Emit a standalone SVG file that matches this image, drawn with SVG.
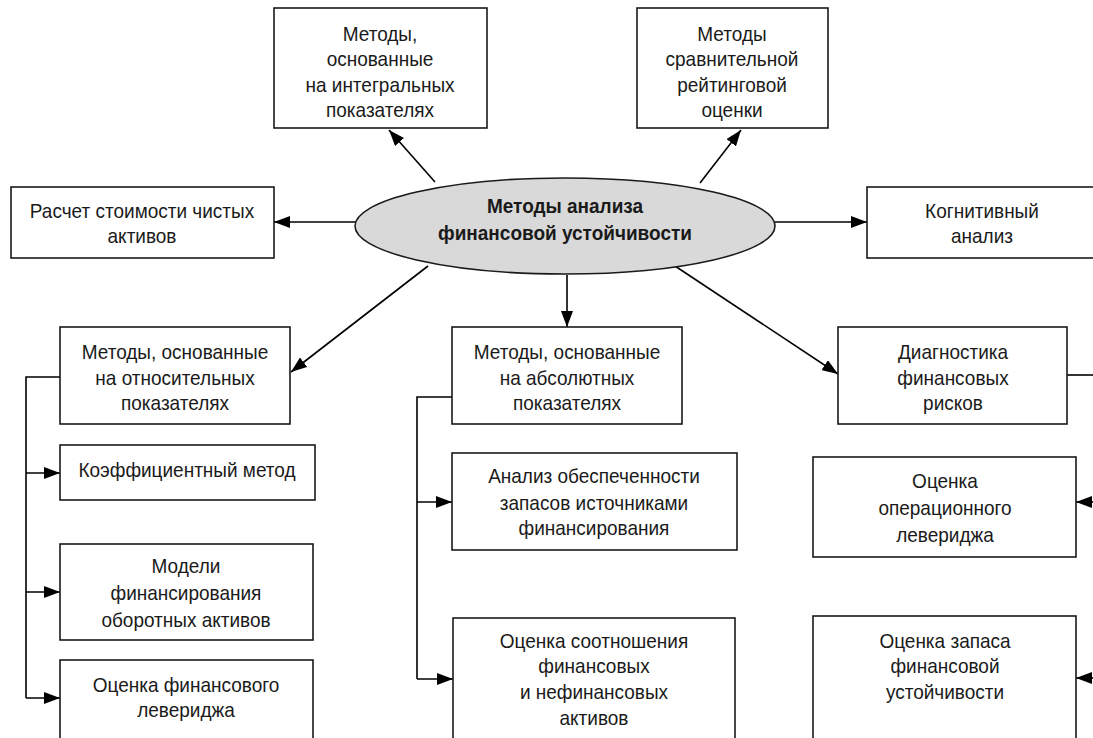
<svg xmlns="http://www.w3.org/2000/svg" width="1093" height="738" viewBox="0 0 1093 738">
<defs>
<marker id="ah" markerUnits="userSpaceOnUse" markerWidth="16" markerHeight="12" viewBox="0 0 16 12" refX="16" refY="6" orient="auto">
<path d="M0,0 L16,6 L0,12 Z" fill="#000"/>
</marker>
</defs>
<style>
.box{fill:#fff;stroke:#1a1a1a;stroke-width:1.6}
.t{font-family:"Liberation Sans",Arial,sans-serif;font-size:20.5px;fill:#1a1a1a;text-anchor:middle;transform-box:fill-box;transform-origin:center;transform:scaleX(0.927)}
.b{font-weight:bold}
.c{fill:none;stroke:#000;stroke-width:1.6}
.a{fill:none;stroke:#000;stroke-width:1.6;marker-end:url(#ah)}
</style>
<rect width="1093" height="738" fill="#fff"/>
<g id="connectors">
<path class="a" d="M435,182 L389,130"/>
<path class="a" d="M700,183 L741,130"/>
<path class="a" d="M356,222 L274,222"/>
<path class="a" d="M775,222 L867,222"/>
<path class="a" d="M428,266 L291,372"/>
<path class="a" d="M567,275 L567,327"/>
<path class="a" d="M675,266 L838,374"/>
<path class="c" d="M60,377 L26,377 L26,698"/>
<path class="a" d="M26,473 L60,473"/>
<path class="a" d="M26,592 L60,592"/>
<path class="a" d="M26,698 L60,698"/>
<path class="c" d="M452,397 L417,397 L417,679"/>
<path class="a" d="M417,502 L452,502"/>
<path class="a" d="M417,679 L453,679"/>
<path class="c" d="M1067,375 L1095,375"/>
<path class="a" d="M1095,502 L1076,502"/>
<path class="a" d="M1095,678 L1076,678"/>
</g>
<g id="center">
<ellipse cx="565" cy="226" rx="210" ry="48" fill="#d9d9d9" stroke="#1a1a1a" stroke-width="1.6"/>
<text class="t b" x="565" y="213">Методы анализа</text>
<text class="t b" x="565" y="240">финансовой устойчивости</text>
</g>
<g id="integral">
<rect class="box" x="274" y="8" width="213" height="120"/>
<text class="t" x="380" y="41">Методы,</text>
<text class="t" x="380" y="66.5">основанные</text>
<text class="t" x="380" y="92">на интегральных</text>
<text class="t" x="380" y="117.5">показателях</text>
</g>
<g id="rating">
<rect class="box" x="637" y="8" width="191" height="120"/>
<text class="t" x="732" y="41">Методы</text>
<text class="t" x="732" y="66.5">сравнительной</text>
<text class="t" x="732" y="92">рейтинговой</text>
<text class="t" x="732" y="117.5">оценки</text>
</g>
<g id="netassets">
<rect class="box" x="11" y="187" width="263" height="71"/>
<text class="t" x="142" y="218">Расчет стоимости чистых</text>
<text class="t" x="142" y="243">активов</text>
</g>
<g id="cognitive">
<rect class="box" x="867" y="187" width="240" height="71"/>
<text class="t" x="982" y="218">Когнитивный</text>
<text class="t" x="982" y="243">анализ</text>
</g>
<g id="relative">
<rect class="box" x="60" y="327" width="230" height="97"/>
<text class="t" x="175" y="359">Методы, основанные</text>
<text class="t" x="175" y="385">на относительных</text>
<text class="t" x="175" y="410">показателях</text>
</g>
<g id="coef">
<rect class="box" x="60" y="445" width="255" height="55"/>
<text class="t" x="187" y="477">Коэффициентный метод</text>
</g>
<g id="models">
<rect class="box" x="60" y="544" width="253" height="96"/>
<text class="t" x="186" y="573">Модели</text>
<text class="t" x="186" y="600">финансирования</text>
<text class="t" x="186" y="627">оборотных активов</text>
</g>
<g id="finlev">
<rect class="box" x="60" y="660" width="253" height="90"/>
<text class="t" x="186" y="692">Оценка финансового</text>
<text class="t" x="186" y="717">левериджа</text>
</g>
<g id="absolute">
<rect class="box" x="452" y="327" width="230" height="97"/>
<text class="t" x="567" y="359">Методы, основанные</text>
<text class="t" x="567" y="385">на абсолютных</text>
<text class="t" x="567" y="410">показателях</text>
</g>
<g id="stock">
<rect class="box" x="452" y="453" width="285" height="97"/>
<text class="t" x="594" y="483">Анализ обеспеченности</text>
<text class="t" x="594" y="510">запасов источниками</text>
<text class="t" x="594" y="535">финансирования</text>
</g>
<g id="ratio">
<rect class="box" x="453" y="618" width="282" height="130"/>
<text class="t" x="594" y="648">Оценка соотношения</text>
<text class="t" x="594" y="673">финансовых</text>
<text class="t" x="594" y="699">и нефинансовых</text>
<text class="t" x="594" y="725">активов</text>
</g>
<g id="risks">
<rect class="box" x="838" y="327" width="229" height="97"/>
<text class="t" x="953" y="359">Диагностика</text>
<text class="t" x="953" y="385">финансовых</text>
<text class="t" x="953" y="410">рисков</text>
</g>
<g id="oplev">
<rect class="box" x="813" y="457" width="263" height="100"/>
<text class="t" x="945" y="488">Оценка</text>
<text class="t" x="945" y="515">операционного</text>
<text class="t" x="945" y="542">левериджа</text>
</g>
<g id="margin">
<rect class="box" x="813" y="616" width="263" height="135"/>
<text class="t" x="945" y="648">Оценка запаса</text>
<text class="t" x="945" y="673">финансовой</text>
<text class="t" x="945" y="699">устойчивости</text>
</g>
</svg>
